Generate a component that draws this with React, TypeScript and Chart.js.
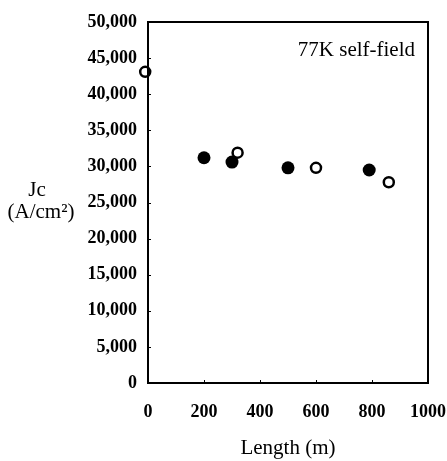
import React, { useEffect, useRef } from "react";
import { Chart, registerables } from "chart.js";

Chart.register(...registerables);

const filledX = [200, 300, 500, 790];
const filledY = [31200, 30600, 29800, 29500];
const openX = [-10, 320, 600, 860];
const openY = [43100, 31900, 29800, 27800];
const xTicks = [0, 200, 400, 600, 800, 1000];
const yTicks = [0, 5000, 10000, 15000, 20000, 25000, 30000, 35000, 40000, 45000, 50000];
const xTitle = "Length (m)";
const yTitleLines = ["Jc", "(A/cm²)"];
const annotation = "77K self-field";

const FONT = "'Liberation Serif', 'Times New Roman', serif";

export default function App() {
  const ref = useRef<HTMLCanvasElement | null>(null);
  useEffect(() => {
    if (!ref.current) return;
    const textPlugin = {
      id: "extras",
      afterDraw(chart: any) {
        const { ctx, chartArea } = chart;
        const xs = chart.scales.x;
        const ys = chart.scales.y;
        ctx.save();
        ctx.strokeStyle = "#000";
        ctx.lineWidth = 2;
        ctx.strokeRect(chartArea.left, chartArea.top, chartArea.right - chartArea.left, chartArea.bottom - chartArea.top);
        ctx.lineWidth = 1;
        ctx.beginPath();
        yTicks.forEach((v) => {
          const py = Math.round(ys.getPixelForValue(v)) + 0.5;
          ctx.moveTo(chartArea.left, py);
          ctx.lineTo(chartArea.left + 3, py);
        });
        xTicks.forEach((v) => {
          const px = Math.round(xs.getPixelForValue(v)) + 0.5;
          ctx.moveTo(px, chartArea.bottom);
          ctx.lineTo(px, chartArea.bottom - 3);
        });
        ctx.stroke();
        ctx.fillStyle = "#000";
        ctx.textAlign = "center";
        ctx.textBaseline = "middle";
        ctx.font = `21px ${FONT}`;
        ctx.fillText(yTitleLines[0], 37, 190);
        ctx.fillText(yTitleLines[1], 41, 212);
        ctx.textAlign = "right";
        ctx.font = `21px ${FONT}`;
        ctx.fillText(annotation, 415, 50);
        ctx.restore();
      },
    };
    const chart = new Chart(ref.current, {
      type: "scatter",
      data: {
        datasets: [
          {
            label: "filled",
            data: filledX.map((x, i) => ({ x, y: filledY[i] })),
            backgroundColor: "#000",
            borderColor: "#000",
            pointRadius: 6.5,
            borderWidth: 0,
            clip: false,
          },
          {
            label: "open",
            data: openX.map((x, i) => ({ x, y: openY[i] })),
            backgroundColor: "#fff",
            borderColor: "#000",
            pointRadius: 5,
            borderWidth: 2.5,
            clip: false,
          },
        ],
      },
      options: {
        animation: false,
        responsive: false,
        layout: { padding: { top: 22, right: 19, left: 0, bottom: 0 } },
        plugins: { legend: { display: false }, tooltip: { enabled: false } },
        scales: {
          x: {
            type: "linear",
            min: 0,
            max: 1000,
            afterBuildTicks: (s: any) => {
              s.ticks = xTicks.map((v) => ({ value: v }));
            },
            afterFit: (s: any) => {
              s.height = 78;
              s.paddingRight = 0;
              s.paddingLeft = 0;
            },
            grid: { display: false, drawTicks: false },
            border: { display: false },
            ticks: {
              color: "#000",
              font: { family: FONT, size: 18, weight: "bold" },
              padding: 19,
              maxRotation: 0,
              callback: (v: any) => String(v),
            },
            title: {
              display: true,
              text: xTitle,
              color: "#000",
              font: { family: FONT, size: 21 },
              padding: { top: 0, bottom: 0 },
            },
          },
          y: {
            type: "linear",
            min: 0,
            max: 50000,
            afterBuildTicks: (s: any) => {
              s.ticks = yTicks.map((v) => ({ value: v }));
            },
            afterFit: (s: any) => {
              s.width = 148;
            },
            grid: { display: false, drawTicks: false },
            border: { display: false },
            ticks: {
              color: "#000",
              font: { family: FONT, size: 18, weight: "bold" },
              padding: 11,
              callback: (v: any) => Number(v).toLocaleString("en-US"),
            },
          },
        },
      },
      plugins: [textPlugin],
    });
    return () => chart.destroy();
  }, []);
  return (
    <canvas
      ref={ref}
      width={447}
      height={461}
      style={{ position: "fixed", left: 0, top: 0, width: 447, height: 461, background: "#fff" }}
    />
  );
}
